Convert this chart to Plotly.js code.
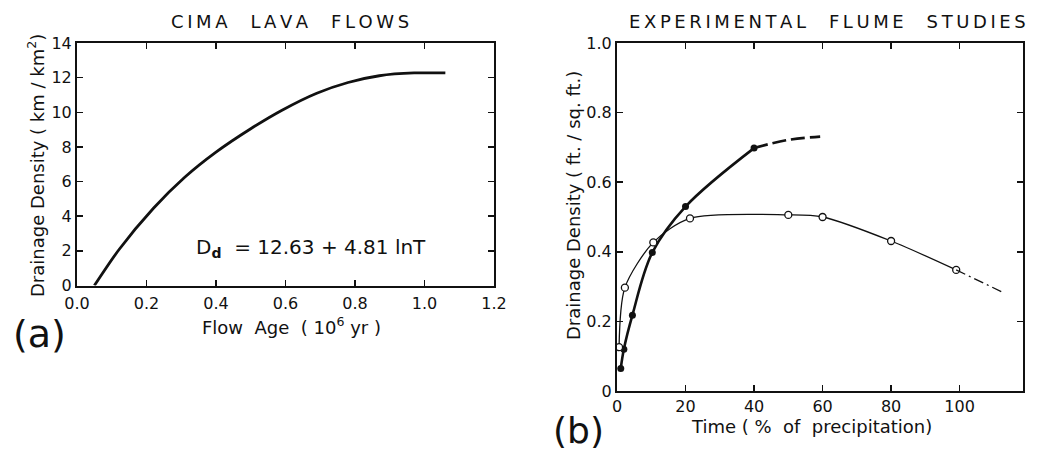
<!DOCTYPE html>
<html><head><meta charset="utf-8">
<script src="https://cdn.plot.ly/plotly-3.0.1.min.js"></script>
<style>html,body{margin:0;padding:0;background:#fff}#chart{width:1054px;height:453px}</style>
</head><body><div id="chart"></div>
<script>
// (a) Cima lava flows: drainage density vs flow age
const flowAge   = [0.05, 0.12, 0.22, 0.31, 0.40, 0.50, 0.59, 0.69, 0.78, 0.87, 0.97, 1.06];
const lavaDd    = [0.0, 2.05, 4.46, 6.25, 7.70, 9.05, 10.12, 11.10, 11.72, 12.11, 12.27, 12.27];

// (b) Experimental flume studies
const filledTime = [1.1, 2.0, 4.5, 10.3, 20.0, 40.0];
const filledDd   = [0.065, 0.12, 0.218, 0.398, 0.53, 0.698];
const filledExtTime = [40.0, 49.5, 59.3];
const filledExtDd   = [0.698, 0.721, 0.731];

const openTime = [0.6, 2.3, 10.6, 21.3, 50.0, 60.0, 80.0, 99.0];
const openDd   = [0.126, 0.297, 0.427, 0.496, 0.506, 0.50, 0.431, 0.348];
const openExtTime = [99.0, 112.5];
const openExtDd   = [0.348, 0.284];

const ageTicks = [0, 0.2, 0.4, 0.6, 0.8, 1.0, 1.2];
const ageTickText = ["0.0", "0.2", "0.4", "0.6", "0.8", "1.0", "1.2"];
const lavaTicks = [0, 2, 4, 6, 8, 10, 12, 14];
const timeTicks = [0, 20, 40, 60, 80, 100];
const flumeTicks = [0, 0.2, 0.4, 0.6, 0.8, 1.0];
const flumeTickText = ["0", "0.2", "0.4", "0.6", "0.8", "1.0"];

const W = 1054, H = 453;
const px = v => v / W;
const py = v => 1 - v / H;
const NB = '\u00a0';
const spaced = s => s.split(' ').map(w => w.split('').join('\u2009')).join(NB.repeat(4));

const FONT = "DejaVu Sans, Verdana, sans-serif";
const INK = "#111";

const traces = [
  {x: flowAge, y: lavaDd, xaxis: 'x', yaxis: 'y', mode: 'lines', line: {color: INK, width: 2.8, shape: 'spline', smoothing: 0.7}, hoverinfo: 'skip'},
  {x: filledTime, y: filledDd, xaxis: 'x2', yaxis: 'y2', mode: 'lines+markers',
   line: {color: INK, width: 2.6, shape: 'spline', smoothing: 1.0},
   marker: {color: INK, size: 7, symbol: 'circle'}, hoverinfo: 'skip'},
  {x: filledExtTime, y: filledExtDd, xaxis: 'x2', yaxis: 'y2', mode: 'lines',
   line: {color: INK, width: 2.6, shape: 'spline', dash: '14px,5px'}, hoverinfo: 'skip'},
  {x: openTime, y: openDd, xaxis: 'x2', yaxis: 'y2', mode: 'lines+markers',
   line: {color: INK, width: 1.3, shape: 'spline', smoothing: 0.8},
   marker: {color: '#fff', size: 7, symbol: 'circle', line: {color: INK, width: 1.3}}, hoverinfo: 'skip'},
  {x: openExtTime, y: openExtDd, xaxis: 'x2', yaxis: 'y2', mode: 'lines',
   line: {color: INK, width: 1.3, dash: '10px,4px,2px,4px'}, hoverinfo: 'skip'}
];

const axBase = {
  showgrid: false, zeroline: false, showline: true, linecolor: INK, linewidth: 2,
  mirror: 'ticks', ticks: 'inside', ticklen: 6, tickwidth: 1.5, tickcolor: INK,
  tickfont: {family: FONT, size: 16, color: INK}, fixedrange: true
};

const layout = {
  width: W, height: H, margin: {l: 0, r: 0, t: 0, b: 0},
  paper_bgcolor: '#fff', plot_bgcolor: '#fff', showlegend: false,
  font: {family: FONT, color: INK},
  xaxis: Object.assign({}, axBase, {domain: [px(77), px(494)], range: [0, 1.2], tickvals: ageTicks, ticktext: ageTickText, anchor: 'y', ticklabelstandoff: 2}),
  yaxis: Object.assign({}, axBase, {domain: [1 - 285.5 / H, py(43)], range: [0, 14], tickvals: lavaTicks, anchor: 'x'}),
  xaxis2: Object.assign({}, axBase, {domain: [px(617), px(1023)], range: [0, 118.5], tickvals: timeTicks, anchor: 'y2'}),
  yaxis2: Object.assign({}, axBase, {domain: [py(391), py(43)], range: [0, 1], tickvals: flumeTicks, ticktext: flumeTickText, anchor: 'x2'}),
  annotations: [
    {text: spaced('CIMA LAVA FLOWS'), x: px(290), y: py(21), font: {size: 18}},
    {text: spaced('EXPERIMENTAL FLUME STUDIES'), x: px(827), y: py(21), font: {size: 18}},
    {text: 'Drainage' + NB + 'Density' + NB + '( km / km<sup>2</sup>)', x: px(36), y: py(166), textangle: -90, font: {size: 18}},
    {text: 'Drainage' + NB + 'Density' + NB + '( ft. / sq. ft.)', x: px(573), y: py(206), textangle: -90, font: {size: 18}},
    {text: 'Flow' + NB + NB + 'Age' + NB + ' ( 10<sup>6</sup> yr )', x: px(291), y: py(326), font: {size: 18}},
    {text: 'Time ( %' + NB + NB + 'of' + NB + NB + 'precipitation)', x: px(811), y: py(426), font: {size: 18}},
    {text: 'D<sub><b>d</b></sub>' + NB + NB + '=' + NB + '12.63' + NB + '+' + NB + '4.81' + NB + 'lnT', x: px(311), y: py(248), font: {size: 20}},
    {text: '(a)', x: px(39), y: py(334), font: {size: 38}},
    {text: '(b)', x: px(578), y: py(430), font: {size: 36}}
  ].map(a => Object.assign({xref: 'paper', yref: 'paper', showarrow: false, xanchor: 'center', yanchor: 'middle'}, a, {font: Object.assign({family: FONT, color: INK}, a.font)}))
};

Plotly.newPlot('chart', traces, layout, {staticPlot: true, displayModeBar: false});
</script>
</body></html>
